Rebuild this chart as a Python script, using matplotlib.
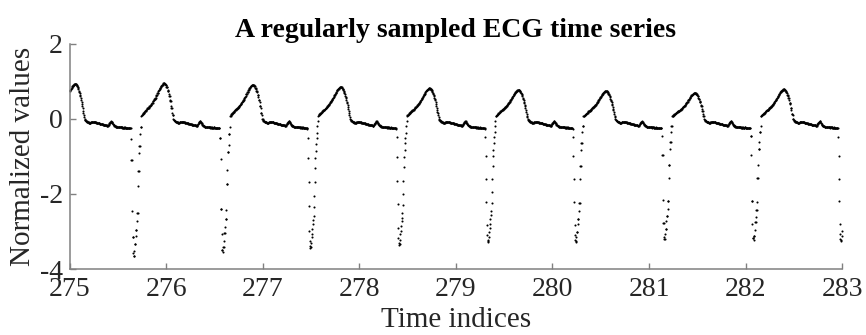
import numpy as np
import matplotlib
matplotlib.use("Agg")
import matplotlib.pyplot as plt

# sampling rate of the trace (samples per time index)
fs = 250

# onset of each spike (start of the fast downstroke)
beat_onsets = [274.71, 275.63, 276.55, 277.46, 278.38, 279.30, 280.21, 281.13, 282.05, 282.955]
# lowest value of each spike and height of the hump that follows it
spike_depth = [-3.60, -3.65, -3.56, -3.45, -3.36, -3.28, -3.28, -3.20, -3.23, -3.25]
t_peak = [0.93, 0.95, 0.91, 0.85, 0.82, 0.77, 0.74, 0.69, 0.79, 0.75]

# one beat read sample by sample (beat starting near 277.46)
qrs_shape = [-0.27, -0.50, -1.04, -1.69, -2.33, -2.98, -3.25, -3.39, -3.45,
             -3.42, -3.32, -3.16, -3.07, -2.94, -2.80, -2.70, -2.58, -2.36, -2.05,
             -1.69, -1.31, -1.05, -0.86, -0.67, -0.51, -0.38, -0.20, -0.05, 0.07]
t_shape = [0.10, 0.11, 0.12, 0.13, 0.14, 0.15, 0.16, 0.17, 0.18, 0.19, 0.21,
           0.22, 0.23, 0.24, 0.25, 0.25, 0.26, 0.27, 0.28, 0.29, 0.30, 0.32, 0.33, 0.34, 0.35, 0.36, 0.38, 0.39,
           0.41, 0.42, 0.44, 0.45, 0.47, 0.48, 0.50, 0.51, 0.53, 0.55, 0.57, 0.59, 0.61, 0.63, 0.65, 0.66, 0.68,
           0.70, 0.72, 0.74, 0.76, 0.77, 0.79, 0.80, 0.81, 0.82, 0.83, 0.84, 0.85, 0.85, 0.85, 0.84, 0.84, 0.83, 0.81,
           0.79, 0.77, 0.75, 0.72, 0.69, 0.66, 0.62, 0.59, 0.55, 0.51, 0.46, 0.42, 0.37, 0.31, 0.26, 0.20, 0.15,
           0.10, 0.05, 0.01, -0.03,
           -0.04, -0.05, -0.06, -0.06, -0.07, -0.08, -0.08, -0.09, -0.09, -0.10, -0.10, -0.10, -0.10, -0.10,
           -0.09, -0.09, -0.09, -0.08, -0.08, -0.08, -0.09, -0.09, -0.09, -0.09, -0.09, -0.09,
           -0.09, -0.10, -0.10, -0.10, -0.11, -0.11, -0.11, -0.12, -0.12, -0.12, -0.12, -0.13, -0.13, -0.13,
           -0.13, -0.14, -0.14, -0.14, -0.14, -0.15, -0.15, -0.15, -0.15, -0.16, -0.16, -0.16, -0.16, -0.17,
           -0.17, -0.17, -0.18, -0.18, -0.18,
           -0.16, -0.14, -0.13, -0.11, -0.10, -0.08, -0.07, -0.06, -0.06, -0.08, -0.10, -0.12, -0.14, -0.15,
           -0.16, -0.17, -0.18, -0.19, -0.20,
           -0.20, -0.21, -0.21, -0.21, -0.21, -0.22, -0.22, -0.22, -0.22, -0.22, -0.22, -0.22, -0.22, -0.22,
           -0.21, -0.22, -0.23, -0.22, -0.22, -0.23, -0.23, -0.22, -0.23, -0.23, -0.23, -0.22,
           -0.23, -0.23, -0.24, -0.24, -0.23, -0.24, -0.24, -0.24, -0.24, -0.25, -0.25, -0.25, -0.25, -0.25,
           -0.26, -0.26, -0.26, -0.26, -0.26]

x_ticks = [275, 276, 277, 278, 279, 280, 281, 282, 283]
y_ticks = [-4, -2, 0, 2]


def build_series():
    t = 275 + np.arange(8 * fs + 1) / fs
    y = np.full(t.shape, np.nan)
    for k, onset in enumerate(beat_onsets):
        qrs = np.array(qrs_shape)
        rest = np.array(t_shape)
        qrs = np.where(qrs < 0, qrs * spike_depth[k] / min(qrs_shape), qrs)
        rest = np.where(rest > 0, rest * t_peak[k] / max(t_shape), rest)
        beat = np.concatenate([qrs, rest])
        idx = np.round((t - onset) * fs).astype(int)
        inside = (idx >= 0) & (idx < len(beat))
        if k + 1 < len(beat_onsets):
            inside &= t < beat_onsets[k + 1]
        y[inside] = beat[idx[inside]]
    return t, y


plt.rcParams['font.family'] = ['Liberation Serif', 'DejaVu Serif']
plt.rcParams['axes.unicode_minus'] = False

t, y = build_series()

fig = plt.figure(figsize=(8.66, 3.35), dpi=100)
ax = fig.add_axes([0.0808, 0.197, 0.8915, 0.672])

ax.plot(t, y, linestyle='none', marker='o', ms=1.5, mew=0, color='k', clip_on=False)

ax.set_xlim(275, 283)
ax.set_ylim(-4, 2)
ax.set_xticks(x_ticks)
ax.set_yticks(y_ticks)
ax.set_xticklabels([str(v) for v in x_ticks])
ax.set_yticklabels([str(v) for v in y_ticks])

for side in ['top', 'right']:
    ax.spines[side].set_visible(False)
for side in ['left', 'bottom']:
    ax.spines[side].set_color('#808080')
    ax.spines[side].set_linewidth(1.1)
ax.tick_params(direction='in', length=4, width=1, colors='#808080',
               labelcolor='#262626', labelsize=20)
ax.tick_params(axis='x', pad=6)
ax.tick_params(axis='y', pad=5)

ax.set_title('A regularly sampled ECG time series', fontsize=20, fontweight='bold', pad=5)
ax.set_xlabel('Time indices', fontsize=21, color='#262626', labelpad=3)
ax.set_ylabel('Normalized values', fontsize=21, color='#262626', labelpad=3)

fig.savefig('out.png', dpi=100)
